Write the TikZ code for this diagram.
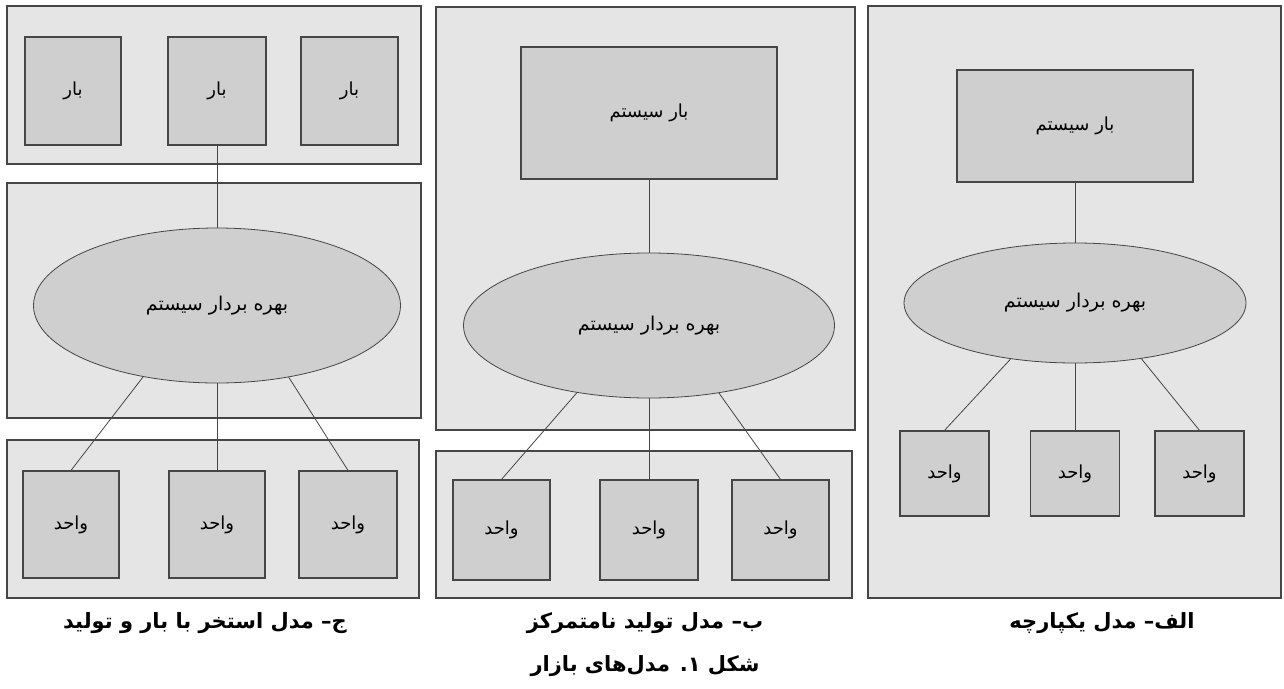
\documentclass[tikz,border=0pt]{standalone}
\usepackage{fontspec}
\usetikzlibrary{shapes.geometric}
\TeXXeTstate=1
\newfontfamily\arabicfont[Script=Arabic]{DejaVu Sans}
\newcommand{\rtltext}[1]{\beginR #1\endR}
\definecolor{panelGray}{RGB}{229,229,229}
\definecolor{boxGray}{RGB}{207,207,207}
\definecolor{edgeGray}{RGB}{70,70,70}

\begin{document}
\begin{tikzpicture}
[x=1pt,y=-1pt,
  panelDecorate/.style={shape=rectangle,draw=edgeGray,fill=panelGray,line width=1.2pt,inner sep=0pt},
  boxDecorate/.style={shape=rectangle,draw=edgeGray,fill=boxGray,line width=1.2pt,inner sep=0pt,
    font=\arabicfont\fontsize{18}{22}\selectfont},
  ellipseDecorate/.style={shape=ellipse,draw=edgeGray,fill=boxGray,line width=0.8pt,inner sep=0pt,
    font=\arabicfont\fontsize{19}{23}\selectfont},
  lineDecorate/.style={draw=edgeGray,line width=0.8pt},
  captionDecorate/.style={font=\arabicfont\bfseries\fontsize{21}{25}\selectfont}]
\useasboundingbox[fill=white] (0,0) rectangle (1284,688);
%% panels
\foreach \nodename/\xa/\ya/\xb/\yb in {
  panC1/7/6/421/164, panC2/7/183/421/418, panC3/7/440/419/598,
  panB1/436/7/855/430, panB2/436/451/852/598,
  panA/868/6/1281/598}
{
  \node (\nodename) [panelDecorate,minimum width=\xb-\xa,minimum height=\yb-\ya]
    at ({(\xa+\xb)/2},{(\ya+\yb)/2}) {};
}
%% load boxes
\foreach \nodename/\x/\y/\w/\h/\txt in {
  loadC1/73/91/96/108/بار, loadC2/217/91/98/108/بار, loadC3/349.5/91/97/108/بار,
  loadB/649/113/256/132/بار سیستم, loadA/1075/126/236/112/بار سیستم}
{
  \node (\nodename) [boxDecorate,minimum width=\w,minimum height=\h] at (\x,\y) {\rtltext{\txt}};
}
%% operators
\foreach \nodename/\x/\y/\w/\h in {
  ellC/217/305.5/367/155, ellB/649/325.5/371/145, ellA/1075/303/342/120}
{
  \node (\nodename) [ellipseDecorate,minimum width=\w,minimum height=\h] at (\x,\y) {\rtltext{بهره بردار سیستم}};
}
%% units
\foreach \nodename/\x/\y/\w/\h in {
  unitC1/71/524.5/96/107, unitC2/217/524.5/96/107, unitC3/348/524.5/98/107,
  unitB1/501.5/530/97/100, unitB2/649/530/98/100, unitB3/780.5/530/97/100,
  unitA1/944.5/473.5/89/85, unitA2/1075/473.5/89/85, unitA3/1199.5/473.5/89/85}
{
  \node (\nodename) [boxDecorate,minimum width=\w,minimum height=\h] at (\x,\y) {\rtltext{واحد}};
}
%% edges or lines
\path
\foreach \startnode/\endnode in {
  loadC2.south/ellC.north, loadB.south/ellB.north, loadA.south/ellA.north,
  ellC.-136/unitC1.north, ellC.south/unitC2.north, ellC.-45/unitC3.north,
  ellB.-137/unitB1.north, ellB.south/unitB2.north, ellB.-44/unitB3.north,
  ellA.-139/unitA1.north, ellA.south/unitA2.north, ellA.-40/unitA3.north}
{
  (\startnode) edge[lineDecorate] (\endnode)
};
%% captions
\node (capC) [captionDecorate] at (205,623) {\rtltext{ج– مدل استخر با بار و تولید}};
\node (capB) [captionDecorate] at (645,623) {\rtltext{ب– مدل تولید نامتمرکز}};
\node (capA) [captionDecorate] at (1102,623) {\rtltext{الف– مدل یکپارچه}};
\node (capMain) [captionDecorate] at (645,666) {\rtltext{شکل ۱. مدل‌های بازار}};
\end{tikzpicture}
\end{document}
